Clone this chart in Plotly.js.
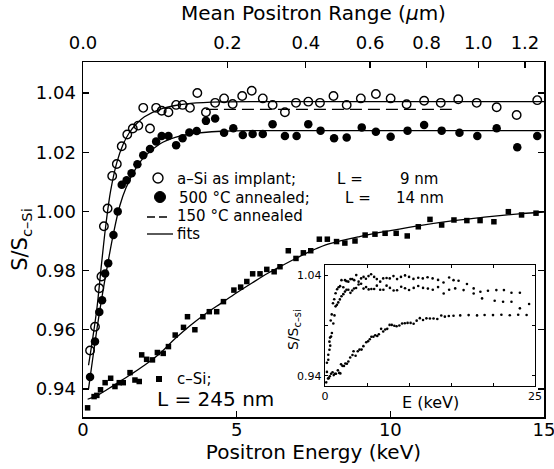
<!DOCTYPE html>
<html><head><meta charset="utf-8">
<script src="https://cdn.plot.ly/plotly-3.0.1.min.js"></script>
<style>body{margin:0;background:#fff}#chart{width:554px;height:469px}</style>
</head><body><div id="chart"></div>
<script>
// ---- a-Si as implanted (open circles)
var aSiE = [0.23,0.39,0.53,0.60,0.68,0.80,0.95,1.10,1.26,1.44,1.62,1.80,1.96,2.18,2.38,2.56,2.78,3.03,3.24,3.48,3.72,4.00,4.30,4.59,4.87,5.18,5.49,5.85,6.17,6.57,6.93,7.33,7.71,8.15,8.58,9.04,9.53,10.01,10.53,11.10,11.64,12.21,12.81,13.46,14.11,14.78];
var aSiS = [0.953,0.961,0.974,0.978,0.995,1.001,1.012,1.016,1.022,1.026,1.028,1.029,1.035,1.028,1.035,1.034,1.0335,1.036,1.036,1.035,1.040,1.0335,1.0367,1.0382,1.0363,1.039,1.0408,1.0382,1.036,1.0335,1.0367,1.0371,1.0367,1.039,1.036,1.0382,1.0397,1.0382,1.0362,1.0374,1.0367,1.0379,1.0367,1.0352,1.0326,1.0376];
// ---- 500 C annealed (filled circles)
var annE = [0.23,0.39,0.53,0.62,0.72,0.82,0.99,1.13,1.26,1.42,1.58,1.77,1.96,2.18,2.38,2.56,2.78,3.03,3.24,3.46,3.70,4.00,4.30,4.59,4.89,5.20,5.52,5.85,6.17,6.57,6.95,7.33,7.73,8.17,8.58,9.07,9.53,10.01,10.56,11.10,11.67,12.25,12.83,13.46,14.13,14.78];
var annS = [0.944,0.956,0.966,0.970,0.979,0.9825,0.992,1.000,1.009,1.0105,1.0129,1.0159,1.019,1.0211,1.0236,1.0255,1.0255,1.0224,1.0247,1.0267,1.0272,1.0306,1.0314,1.0266,1.0281,1.0258,1.0262,1.0262,1.0295,1.0255,1.0255,1.0295,1.0273,1.0247,1.025,1.0284,1.0269,1.0252,1.0273,1.0292,1.0273,1.0266,1.0255,1.0281,1.0217,1.0255];
// ---- c-Si (filled squares)
var cSiE = [0.15,0.36,0.45,0.57,0.72,0.90,1.04,1.18,1.31,1.53,1.69,1.83,1.91,2.07,2.26,2.42,2.61,2.78,3.00,3.27,3.40,3.64,3.90,4.11,4.35,4.57,4.91,5.13,5.33,5.52,5.76,5.98,6.22,6.41,6.68,6.93,7.17,7.41,7.69,7.95,8.25,8.52,8.85,9.18,9.50,9.83,10.19,10.55,10.91,11.29,11.67,12.07,12.49,12.92,13.37,13.84,14.27,14.74];
var cSiS = [0.9336,0.9374,0.9378,0.9397,0.9421,0.9436,0.9408,0.9421,0.9421,0.9455,0.943,0.9425,0.9515,0.950,0.9498,0.9523,0.952,0.9543,0.9582,0.9608,0.9644,0.960,0.9644,0.9661,0.9661,0.9695,0.9734,0.9744,0.9763,0.9789,0.9789,0.9804,0.9796,0.9813,0.9867,0.9841,0.986,0.9867,0.9906,0.9906,0.9898,0.9893,0.9900,0.992,0.9923,0.9926,0.9926,0.9917,0.9948,0.9973,0.9954,0.9971,0.9969,0.9969,0.9965,0.9999,0.9988,0.9994];
// ---- fits
var fitASiE = [0.18,0.3,0.45,0.6,0.75,0.9,1.1,1.3,1.5,1.75,2.0,2.5,3.0,3.5,4.5,6,15];
var fitASiS = [0.948,0.956,0.967,0.982,0.996,1.007,1.0165,1.0225,1.0265,1.0297,1.032,1.0345,1.0358,1.0365,1.037,1.0371,1.0371];
var fitAnnE = [0.18,0.3,0.45,0.6,0.8,1.0,1.2,1.4,1.7,2.0,2.5,3.0,3.5,4.5,6,15];
var fitAnnS = [0.940,0.949,0.960,0.970,0.982,0.993,1.002,1.008,1.0142,1.0185,1.0228,1.025,1.0262,1.0271,1.0273,1.0273];
var fitCSiE = [0.15,0.5,1.0,1.5,2.0,2.5,3.0,3.5,4.0,4.5,5.0,5.5,6.0,6.5,7.0,7.5,8.0,9.0,10.0,11.0,12.0,13.0,14.0,15.0];
var fitCSiS = [0.9365,0.938,0.9412,0.9445,0.948,0.952,0.957,0.9615,0.9655,0.969,0.9725,0.9758,0.979,0.9818,0.9845,0.987,0.989,0.9915,0.9935,0.9953,0.9968,0.998,0.999,0.9998];
// ---- 150 C annealed (dashed)
var fit150E = [4.0, 12.0];
var fit150S = [1.0345, 1.0345];
// ---- inset: data beyond 15 keV
var insASiE = [15.3,15.9,16.9,17.7,18.5,19.4,20.4,21.3,22.2,23.2];
var insASiS = [1.035,1.0344,1.0311,1.0268,1.0235,1.0245,1.0251,1.0251,1.0225,1.0225];
var insAnnE = [15.5,16.5,17.7,18.7,20.2,21.2,22.2,23.2,24.3];
var insAnnS = [1.0268,1.0251,1.0218,1.0169,1.0146,1.0136,1.0136,1.0070,1.0113];
var insCSiE = [15.3,16.1,17.1,18.1,19.0,20.0,21.0,22.0,23.0,24.0];
var insCSiS = [0.9996,1.0000,1.0003,1.0000,1.0004,1.0003,1.0006,1.0002,1.0006,1.0004];
// ---- axis ticks
var xTicks = [0,5,10,15];
var yTicks = [0.94,0.96,0.98,1.00,1.02,1.04];
var rangeLabels = ['0.0','0.2','0.4','0.6','0.8','1.0','1.2'];
var rangeTickE = [0,4.70,7.25,9.34,11.18,12.86,14.38];
var insXTicks = [0,25];
var insYTicks = [0.94,1.04];

var FONT = 'DejaVu Sans';
var PL=83, PR=544, PT=62, PB=417;
function fx(p){return (p-PL)/(PR-PL);}
function fy(p){return (PB-p)/(PB-PT);}

var blk = '#000';
var traces = [
  {x:fitASiE,y:fitASiS,mode:'lines',line:{color:blk,width:1.3,shape:'spline'},hoverinfo:'skip'},
  {x:fitAnnE,y:fitAnnS,mode:'lines',line:{color:blk,width:1.3,shape:'spline'},hoverinfo:'skip'},
  {x:fitCSiE,y:fitCSiS,mode:'lines',line:{color:blk,width:1.3,shape:'spline'},hoverinfo:'skip'},
  {x:fit150E,y:fit150S,mode:'lines',line:{color:blk,width:1.3,dash:'12px,6px'},hoverinfo:'skip'},
  {x:aSiE,y:aSiS,mode:'markers',marker:{symbol:'circle-open',size:8.5,color:blk,line:{width:1.4,color:blk}}},
  {x:annE,y:annS,mode:'markers',marker:{symbol:'circle',size:8.5,color:blk}},
  {x:cSiE,y:cSiS,mode:'markers',marker:{symbol:'square',size:5.5,color:blk}},
  {x:[0,15],y:[null,null],xaxis:'x2',yaxis:'y',mode:'lines',hoverinfo:'skip'},
  {x:aSiE.concat(insASiE),y:aSiS.concat(insASiS),xaxis:'x3',yaxis:'y3',mode:'markers',marker:{size:2.6,color:blk}},
  {x:annE.concat(insAnnE),y:annS.concat(insAnnS),xaxis:'x3',yaxis:'y3',mode:'markers',marker:{size:2.6,color:blk}},
  {x:cSiE.concat(insCSiE),y:cSiS.concat(insCSiS),xaxis:'x3',yaxis:'y3',mode:'markers',marker:{size:2.6,color:blk}}
];

function ann(text,x,y,size,anchor,extra){
  var a = {text:text,x:fx(x),y:fy(y),xref:'paper',yref:'paper',showarrow:false,
    xanchor:anchor||'left',yanchor:'middle',font:{family:FONT,size:size,color:blk}};
  if(extra){for(var k in extra) a[k]=extra[k];}
  return a;
}

var annotations = [
  ann('a–Si as implant;',175,179,15),
  ann('L =',335,179,15),
  ann('9 nm',440,179,15,'right'),
  ann('500 °C annealed;',177,197.5,15),
  ann('L =',343,197.5,15),
  ann('14 nm',446,197.5,15,'right'),
  ann('150 °C annealed',175,216,15),
  ann('fits',175,234,15),
  ann('c–Si;',175,379,15),
  ann('L = 245 nm',155,399,20),
  ann('E (keV)',430,402,16,'center'),
  ann('S/S<sub>c–si</sub>',294,330,14,'center',{textangle:-90})
];

var shapes = [
  {type:'circle',xref:'paper',yref:'paper',x0:fx(153),x1:fx(163),y0:fy(183),y1:fy(173),line:{color:blk,width:1.4}},
  {type:'circle',xref:'paper',yref:'paper',x0:fx(154.5),x1:fx(165.5),y0:fy(202.5),y1:fy(191.5),fillcolor:blk,line:{color:blk,width:1}},
  {type:'line',xref:'paper',yref:'paper',x0:fx(147),x1:fx(167),y0:fy(217),y1:fy(217),line:{color:blk,width:1.3,dash:'8px,4px'}},
  {type:'line',xref:'paper',yref:'paper',x0:fx(147),x1:fx(173),y0:fy(234),y1:fy(234),line:{color:blk,width:1.3}},
  {type:'rect',xref:'paper',yref:'paper',x0:fx(156),x1:fx(162),y0:fy(382),y1:fy(376),fillcolor:blk,line:{color:blk,width:0}}
];

var axFont = {family:FONT,size:18,color:blk};
var layout = {
  width:554,height:469,
  margin:{l:83,r:10,t:62,b:52},
  paper_bgcolor:'#fff',plot_bgcolor:'#fff',
  showlegend:false,
  font:{family:FONT,color:blk},
  xaxis:{range:[0,15],tickvals:xTicks,ticks:'inside',ticklen:6,tickwidth:1.3,tickcolor:blk,
    showline:true,linewidth:1.5,linecolor:blk,mirror:true,showgrid:false,zeroline:false,
    tickfont:axFont,ticklabelstandoff:-4,ticklabeloverflow:'allow',
    title:{text:'Positron Energy (keV)',font:{family:FONT,size:20,color:blk},standoff:0}},
  xaxis2:{overlaying:'x',side:'top',anchor:'y',range:[0,15],tickvals:rangeTickE,ticktext:rangeLabels,
    ticks:'inside',ticklen:6,tickwidth:1.3,tickcolor:blk,showline:true,linewidth:1.5,linecolor:blk,
    showgrid:false,zeroline:false,tickfont:axFont,ticklabelstandoff:4,ticklabeloverflow:'allow',
    title:{text:'Mean Positron Range (<i>μ</i>m)',font:{family:FONT,size:20,color:blk},standoff:6}},
  yaxis:{range:[0.9305,1.0505],tickvals:yTicks,tickformat:'.2f',ticks:'inside',ticklen:6,tickwidth:1.3,tickcolor:blk,
    showline:true,linewidth:1.5,linecolor:blk,mirror:'ticks',showgrid:false,zeroline:false,
    tickfont:axFont,ticklabelstandoff:2,
    title:{text:'S/S<sub>c–Si</sub>',font:{family:FONT,size:21,color:blk},standoff:2}},
  xaxis3:{domain:[fx(325),fx(535)],anchor:'y3',range:[0,25],tickvals:insXTicks,
    ticks:'inside',ticklen:3,tickwidth:1,tickcolor:blk,showline:true,linewidth:1.2,linecolor:blk,mirror:'ticks',
    minor:{ticks:'inside',ticklen:3,tickcolor:blk,tickwidth:1,dtick:5,tick0:0},
    showgrid:false,zeroline:false,tickfont:{family:FONT,size:11,color:blk},ticklabelstandoff:0,ticklabeloverflow:'allow'},
  yaxis3:{domain:[fy(386),fy(265)],anchor:'x3',range:[0.93,1.05],tickvals:insYTicks,tickformat:'.2f',
    ticks:'inside',ticklen:3,tickwidth:1,tickcolor:blk,showline:true,linewidth:1.2,linecolor:blk,mirror:'ticks',
    minor:{ticks:'inside',ticklen:3,tickcolor:blk,tickwidth:1,dtick:0.05,tick0:0.94},
    showgrid:false,zeroline:false,tickfont:{family:FONT,size:11,color:blk},ticklabelstandoff:0},
  annotations:annotations,
  shapes:shapes
};
Plotly.newPlot('chart',traces,layout,{displayModeBar:false,staticPlot:true});
</script></body></html>
